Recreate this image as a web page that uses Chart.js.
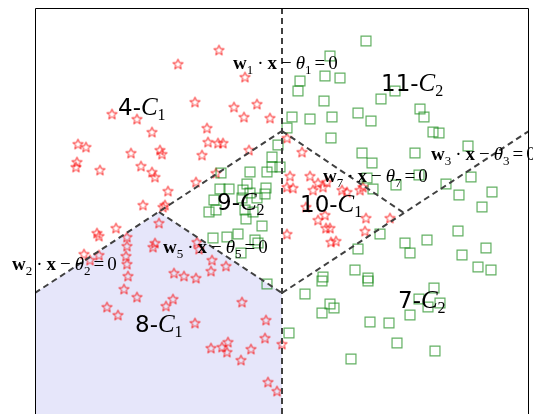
<!DOCTYPE html>
<html>
<head>
<meta charset="utf-8">
<script src="https://cdn.jsdelivr.net/npm/chart.js@4.4.0/dist/chart.umd.min.js"></script>
<style>
  html, body { margin: 0; padding: 0; background: #fff; overflow: hidden; }
</style>
</head>
<body>
<canvas id="chart" width="533" height="414"></canvas>
<script>
// class C1 samples (stars)
var c1Points = [
  [184,364],[143,350],[210,337],[160,312],[77,300],[102,295],[199,307],[222,310],[209,297],[235,296],
  [117,282],[172,286],[43,270],[51,267],[96,261],[125,264],[127,260],[173,272],[183,271],[188,271],
  [214,264],[167,259],[42,252],[41,247],[65,244],[106,248],[117,242],[120,237],[161,232],[181,241],
  [133,223],[108,209],[128,207],[130,209],[124,191],[252,276],[267,262],[255,238],[252,227],[258,226],
  [275,238],[283,231],[292,232],[288,227],[278,224],[307,224],[312,222],[325,224],[328,227],[271,207],
  [283,194],[290,199],[291,186],[295,186],[296,172],[301,173],[252,180],[331,196],[330,183],[355,196],
  [62,181],[64,178],[81,186],[92,177],[92,168],[120,171],[118,167],[162,172],[164,165],[49,160],
  [55,154],[64,159],[91,158],[92,150],[93,138],[89,125],[102,117],[72,107],[83,99],[138,115],
  [131,108],[139,141],[149,138],[161,136],[177,154],[176,143],[191,148],[207,112],[160,91],[176,66],
  [187,67],[193,72],[192,62],[216,65],[206,54],[231,94],[230,76],[247,70],[233,32],[242,23]
];

// class C2 samples (squares)
var c2Points = [
  [331,373],[295,358],[265,333],[290,338],[305,336],[263,323],[289,313],[360,323],[346,315],[257,297],
  [275,295],[297,297],[323,301],[336,293],[385,305],[389,297],[398,282],[404,281],[252,286],[296,276],
  [243,269],[237,257],[237,247],[245,247],[232,242],[327,261],[337,251],[380,261],[433,268],[436,237],
  [411,230],[424,219],[457,222],[447,207],[384,239],[361,229],[338,225],[332,236],[231,226],[215,242],
  [186,241],[212,230],[185,225],[194,225],[208,224],[230,220],[215,221],[179,214],[207,216],[222,216],
  [174,202],[181,204],[210,204],[218,202],[211,195],[227,188],[178,176],[192,177],[203,180],[220,174],
  [206,161],[223,171],[232,130],[254,81],[345,180],[323,165],[370,171],[375,161],[392,174],[423,183],
  [427,159],[451,166],[443,147],[456,144],[320,144],[288,137],[287,133],[333,136],[333,133],[270,120],
  [295,110],[299,106],[287,101],[399,126],[384,115],[393,107],[405,111],[375,99],[335,92],[354,91],
  [362,71],[400,63],[316,55]
];

// decision boundaries w_i . x - theta_i = 0
var line1 = [[247,0],[247,406]];
var line2 = [[0,121],[247,283]];
var line3 = [[247,121],[494,283]];
var line5 = [[124,202],[247,121]];
var line7 = [[247,283],[369,201]];

// shaded region 8-C1
var region8 = [[0,121],[124,202],[247,121]];

var regionNames = ['4', '11', '9', '10', '8', '7'];
var regionClass = ['1', '2', '2', '1', '1', '2'];
var lineIds = ['1', '7', '3', '5', '2'];

function xy(list) {
  return list.map(function (p) { return { x: p[0], y: p[1] }; });
}

function makeStar() {
  var c = document.createElement('canvas');
  c.width = 13; c.height = 13;
  var g = c.getContext('2d');
  g.beginPath();
  for (var i = 0; i < 10; i++) {
    var r = (i % 2) ? 2.3 : 5.4;
    var a = -Math.PI / 2 + i * Math.PI / 5;
    g.lineTo(6.5 + r * Math.cos(a), 7 + r * Math.sin(a));
  }
  g.closePath();
  g.strokeStyle = 'rgba(250,0,0,0.85)';
  g.lineWidth = 1;
  g.stroke();
  return c;
}

var FONTS = {
  rn: '23px "DejaVu Sans"',
  ri: 'italic 25px "Liberation Serif"',
  rs: '16px "Liberation Serif"',
  mb: 'bold 19px "Liberation Serif"',
  mi: 'italic 19px "Liberation Serif"',
  mn: '19px "Liberation Serif"',
  ms: '13px "Liberation Serif"'
};

function drawRich(ctx, segs, px, py) {
  var cx = px;
  segs.forEach(function (s) {
    if (typeof s === 'number') { cx += s; return; }
    ctx.font = FONTS[s[1]];
    var dy = s[1] === 'ms' ? 5 : (s[1] === 'rs' ? 5 : 0);
    ctx.fillText(s[0], cx, py + dy);
    cx += ctx.measureText(s[0]).width;
  });
}

// anchor of each text (left, baseline) in data units
var regionAnchor = [[83,299],[346,323],[182,204],[265,202],[100,82],[363,106]];
var lineAnchor = [[198,345],[288,232],[396,254],[128,161],[-23,144]];

var textPlugin = {
  id: 'texts',
  afterDatasetsDraw: function (chart) {
    var ctx = chart.ctx, sx = chart.scales.x, sy = chart.scales.y;
    ctx.save();
    ctx.fillStyle = '#000';
    ctx.textBaseline = 'alphabetic';
    ctx.textAlign = 'left';
    regionNames.forEach(function (n, i) {
      drawRich(ctx, [[n + '-', 'rn'], ['C', 'ri'], [regionClass[i], 'rs']],
        sx.getPixelForValue(regionAnchor[i][0]), sy.getPixelForValue(regionAnchor[i][1]));
    });
    lineIds.forEach(function (k, i) {
      drawRich(ctx, [['w', 'mb'], [k, 'ms'], 4, ['\u00b7', 'mn'], 4, ['x', 'mb'], 4, ['\u2212', 'mn'], 4,
        ['\u03b8', 'mi'], [k, 'ms'], 3, ['=', 'mn'], 3, ['0', 'mn']],
        sx.getPixelForValue(lineAnchor[i][0]), sy.getPixelForValue(lineAnchor[i][1]));
    });
    ctx.restore();
  },
  afterDraw: function (chart) {
    var ctx = chart.ctx, a = chart.chartArea;
    ctx.save();
    ctx.strokeStyle = '#000';
    ctx.lineWidth = 1;
    ctx.beginPath();
    ctx.moveTo(a.left + 0.5, a.bottom);
    ctx.lineTo(a.left + 0.5, a.top + 0.5);
    ctx.lineTo(a.right - 0.5, a.top + 0.5);
    ctx.lineTo(a.right - 0.5, a.bottom);
    ctx.stroke();
    ctx.restore();
  }
};

function boundary(data) {
  return {
    data: xy(data),
    showLine: true,
    borderColor: '#404040',
    borderWidth: 2,
    borderDash: [6, 4],
    pointRadius: 0,
    fill: false,
    order: 1
  };
}

new Chart(document.getElementById('chart'), {
  type: 'scatter',
  data: {
    datasets: [
      {
        data: xy(region8),
        showLine: true,
        fill: 'origin',
        backgroundColor: '#e6e6fa',
        borderColor: 'rgba(0,0,0,0)',
        pointRadius: 0,
        order: 10
      },
      {
        data: xy(c1Points),
        pointStyle: makeStar(),
        pointRadius: 5,
        order: 5
      },
      {
        data: xy(c2Points),
        pointStyle: 'rect',
        pointRadius: 7,
        pointBorderColor: 'rgba(0,128,0,0.62)',
        pointBackgroundColor: 'rgba(0,0,0,0)',
        pointBorderWidth: 1.2,
        order: 4
      },
      boundary(line1),
      boundary(line2),
      boundary(line3),
      boundary(line5),
      boundary(line7)
    ]
  },
  options: {
    responsive: false,
    animation: false,
    events: [],
    layout: { autoPadding: false, padding: { left: 35, top: 8, right: 4, bottom: 0 } },
    scales: {
      x: { type: 'linear', min: 0, max: 494, display: false },
      y: { type: 'linear', min: 0, max: 406, display: false }
    },
    plugins: {
      legend: { display: false },
      tooltip: { enabled: false }
    }
  },
  plugins: [textPlugin]
});
</script>
</body>
</html>
